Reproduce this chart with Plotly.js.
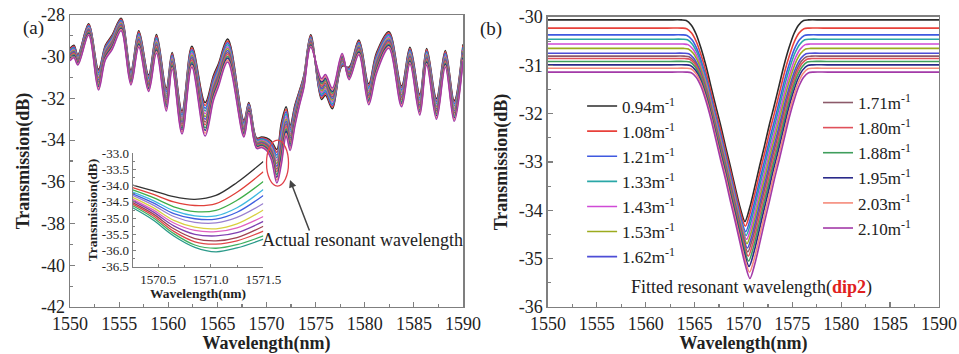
<!DOCTYPE html>
<html><head><meta charset="utf-8">
<script src="https://cdn.plot.ly/plotly-3.0.1.min.js"></script>
<style>html,body{margin:0;padding:0;background:#fff}#chart{width:959px;height:354px}</style>
</head><body><div id="chart"></div>
<script>
// ---------- series (curvature values) ----------
const seriesNames = ['0.94','1.08','1.21','1.33','1.43','1.53','1.62','1.71','1.80','1.88','1.95','2.03','2.10'];
const seriesColors = ['#2b2b2b','#e8413a','#3f59e0','#2aa7a7','#d04ad6','#9cab1e','#4d4dd6','#8c5a6a','#e0505a','#3f9e5c','#2a2a8a','#f58a7a','#a33aa8'];
const insetColors = ['#333333','#e0403a','#3fae4a','#3fb8e0','#4060e0','#9a80d0','#d8d040','#e060c0','#8040b0','#a04050','#e04848','#40b060','#2a9a8a'];

// ---------- tick labels ----------
const yTicksA = [-42,-40,-38,-36,-34,-32,-30,-28];
const yTicksB = [-36,-35,-34,-33,-32,-31,-30];
const yTicksInset = [-36.5,-36.0,-35.5,-35.0,-34.5,-34.0,-33.5,-33.0];
const xTicksInset = [1570.5,1571.0,1571.5];

// ---------- panel (a): measured spectra ----------
const specWl = [1550.0,1550.4,1550.8,1551.9,1552.9,1553.6,1554.3,1555.2,1556.2,1557.0,1558.0,1558.8,1559.8,1560.4,1561.4,1562.4,1563.75,1564.6,1565.1,1566.05,1567.7,1568.2,1569.0,1569.5,1570.0,1570.5,1571.05,1571.5,1572.0,1572.4,1572.9,1573.4,1573.8,1574.5,1575.6,1576.0,1576.7,1577.7,1578.4,1579.4,1580.4,1581.2,1582.45,1583.75,1584.6,1585.6,1586.3,1587.3,1588.2,1589.1,1590.0];
const specCenter = [-29.9,-29.75,-30.15,-28.7,-31.1,-29.8,-29.3,-28.45,-31.0,-29.15,-31.27,-29.38,-32.05,-30.2,-33.15,-30.0,-33.0,-31.5,-30.9,-29.7,-33.45,-32.45,-34.15,-34.1,-34.2,-34.5,-35.25,-34.2,-33.1,-33.9,-32.8,-31.9,-31.2,-29.25,-31.55,-31.35,-32.0,-30.15,-30.8,-29.55,-31.8,-30.3,-29.2,-31.9,-29.95,-32.3,-30.0,-32.5,-30.1,-32.6,-29.8];
const specSpread = [0.6,0.6,0.5,0.55,1.0,0.7,0.7,0.6,0.7,0.8,0.8,0.9,1.1,0.8,1.1,1.0,1.6,1.2,1.1,1.1,0.8,0.5,0.5,0.5,0.6,0.9,1.6,2.0,1.4,1.2,1.0,0.7,0.6,0.6,-1.0,-1.0,-1.0,-0.6,0.6,0.7,1.0,1.0,0.8,1.0,0.8,1.0,0.8,1.0,0.8,1.0,0.8];

// ---------- panel (a) inset ----------
const insetWl = [1570.26,1570.45,1570.65,1570.85,1571.05,1571.25,1571.5];
const insetY = [
  [-33.98,-34.15,-34.34,-34.42,-34.30,-33.90,-33.25],
  [-34.06,-34.26,-34.50,-34.61,-34.55,-34.20,-33.57],
  [-34.13,-34.36,-34.65,-34.80,-34.76,-34.45,-33.87],
  [-34.20,-34.45,-34.77,-34.93,-34.93,-34.68,-34.12],
  [-34.25,-34.52,-34.86,-35.02,-35.03,-34.82,-34.30],
  [-34.30,-34.59,-34.95,-35.13,-35.15,-34.98,-34.55],
  [-34.36,-34.67,-35.07,-35.28,-35.33,-35.18,-34.75],
  [-34.42,-34.74,-35.15,-35.38,-35.42,-35.30,-34.95],
  [-34.47,-34.80,-35.24,-35.50,-35.55,-35.45,-35.10],
  [-34.52,-34.86,-35.33,-35.63,-35.70,-35.60,-35.25],
  [-34.57,-34.92,-35.41,-35.73,-35.80,-35.70,-35.40],
  [-34.62,-34.98,-35.48,-35.83,-35.93,-35.82,-35.55],
  [-34.68,-35.05,-35.55,-35.90,-36.04,-35.92,-35.65]
];

// ---------- panel (b): fitted dips ----------
const fitBaseline = [-30.06,-30.23,-30.37,-30.46,-30.56,-30.65,-30.75,-30.81,-30.86,-30.92,-30.99,-31.06,-31.14];
const fitMin = [-34.23,-34.33,-34.44,-34.52,-34.60,-34.69,-34.78,-34.86,-34.95,-35.05,-35.16,-35.28,-35.41];
const fitCenter = [1570.15,1570.19,1570.23,1570.27,1570.32,1570.36,1570.40,1570.44,1570.49,1570.53,1570.57,1570.62,1570.66];
const profileOffset = [-21,-8,-6.5,-6,-5.5,-5,-4.5,-4,-3.5,-3,-2.5,-2,-1.5,-1,-0.5,0,0.5,1,1.5,2,2.5,3,3.5,4,4.5,5,5.5,6,6.5,8,21];
const profileDepth = [0,0,0,0.003,0.025,0.07,0.14,0.225,0.325,0.425,0.52,0.625,0.725,0.83,0.93,1,0.93,0.83,0.725,0.625,0.52,0.425,0.325,0.225,0.14,0.07,0.025,0.003,0,0,0];

const FONT = 'Liberation Serif';
const traces = [];
const n = seriesNames.length;
for (let i = 0; i < n; i++) {
  const t = 0.5 - i / (n - 1);
  traces.push({
    type: 'scatter', mode: 'lines', xaxis: 'x', yaxis: 'y', showlegend: false,
    x: specWl, y: specCenter.map((v, k) => v + specSpread[k] * t),
    line: {color: seriesColors[i], width: 1.5, shape: 'spline', smoothing: 1}, hoverinfo: 'skip'
  });
}
for (let i = 0; i < n; i++) {
  traces.push({
    type: 'scatter', mode: 'lines', xaxis: 'x3', yaxis: 'y3', showlegend: false,
    x: insetWl, y: insetY[i],
    line: {color: insetColors[i], width: 1.3, shape: 'spline', smoothing: 1}, hoverinfo: 'skip'
  });
}
for (let i = 0; i < n; i++) {
  traces.push({
    type: 'scatter', mode: 'lines', xaxis: 'x2', yaxis: 'y2',
    name: seriesNames[i] + 'm<sup>-1</sup>',
    legend: i < 7 ? 'legend' : 'legend2',
    x: profileOffset.map(o => fitCenter[i] + o),
    y: profileDepth.map(d => fitBaseline[i] + (fitMin[i] - fitBaseline[i]) * d),
    line: {color: seriesColors[i], width: 1.6, shape: 'spline', smoothing: 0.8}, hoverinfo: 'skip'
  });
}

const axCol = '#7f7f7f';
function mainAxis(extra) {
  return Object.assign({
    showline: true, mirror: true, linecolor: axCol, linewidth: 1.5,
    ticks: 'inside', ticklen: 5, tickcolor: axCol, tickwidth: 1.2,
    showgrid: false, zeroline: false, automargin: false,
    tickfont: {family: FONT, size: 18, color: '#222'}
  }, extra);
}
function minorX() { return {ticks: 'inside', ticklen: 3, tickcolor: axCol, dtick: 2.5, tick0: 1550, showgrid: false}; }
function axTitle(txt, size) { return {text: '<b>' + txt + '</b>', font: {family: FONT, size: size, color: '#222'}}; }

const layout = {
  width: 959, height: 354,
  margin: {l: 0, r: 0, t: 0, b: 0},
  paper_bgcolor: '#fff', plot_bgcolor: 'rgba(0,0,0,0)',
  font: {family: FONT, color: '#222', size: 18},
  xaxis: mainAxis({domain: [0.073, 0.4828], anchor: 'y', range: [1550, 1590], tick0: 1550, dtick: 5, minor: minorX(),
    title: Object.assign(axTitle('Wavelength(nm)', 18), {standoff: 4})}),
  yaxis: mainAxis({domain: [0.1328, 0.9576], anchor: 'x', range: [-42, -28],
    tickmode: 'array', tickvals: yTicksA, ticktext: yTicksA.map(String),
    minor: {ticks: 'inside', ticklen: 3, tickcolor: axCol, tickmode: 'linear', tick0: -42, dtick: 1, showgrid: false},
    title: Object.assign(axTitle('Transmission(dB)', 18), {standoff: 6})}),
  xaxis2: mainAxis({domain: [0.5714, 0.9791], anchor: 'y2', range: [1550, 1590], tick0: 1550, dtick: 5, minor: minorX(),
    title: Object.assign(axTitle('Wavelength(nm)', 18), {standoff: 4})}),
  yaxis2: mainAxis({domain: [0.1328, 0.952], anchor: 'x2', range: [-36, -30],
    tickmode: 'array', tickvals: yTicksB, ticktext: yTicksB.map(String),
    minor: {ticks: 'inside', ticklen: 3, tickcolor: axCol, tickmode: 'linear', tick0: -36, dtick: 0.5, showgrid: false},
    title: Object.assign(axTitle('Transmission(dB)', 18), {standoff: 6})}),
  xaxis3: {domain: [0.1384, 0.2746], anchor: 'y3', range: [1570.26, 1571.5],
    tickmode: 'array', tickvals: xTicksInset, ticktext: xTicksInset.map(v => v.toFixed(1)),
    showline: true, mirror: false, linecolor: axCol, linewidth: 1.2, ticks: 'inside', ticklen: 3, tickcolor: axCol,
    minor: {ticks: 'inside', ticklen: 2, tickcolor: axCol, tickmode: 'linear', tick0: 1570.5, dtick: 0.25},
    showgrid: false, zeroline: false, automargin: false,
    tickfont: {family: FONT, size: 13, color: '#222'},
    title: Object.assign(axTitle('Wavelength(nm)', 13.5), {standoff: 0})},
  yaxis3: {domain: [0.2466, 0.5669], anchor: 'x3', range: [-36.5, -33.0],
    tickmode: 'array', tickvals: yTicksInset, ticktext: yTicksInset.map(v => v.toFixed(1)),
    showline: true, mirror: false, linecolor: axCol, linewidth: 1.2, ticks: 'inside', ticklen: 3, tickcolor: axCol,
    minor: {ticks: 'inside', ticklen: 2, tickcolor: axCol, tickmode: 'linear', tick0: -36.5, dtick: 0.25},
    showgrid: false, zeroline: false, automargin: false,
    tickfont: {family: FONT, size: 13, color: '#222'},
    title: Object.assign(axTitle('Transmission(dB)', 13.5), {standoff: 1})},
  legend: {x: 0.607, y: 0.75, xanchor: 'left', yanchor: 'top', bgcolor: 'rgba(0,0,0,0)', borderwidth: 0,
    font: {family: FONT, size: 17, color: '#222'}, tracegroupgap: 0},
  legend2: {x: 0.853, y: 0.76, xanchor: 'left', yanchor: 'top', bgcolor: 'rgba(0,0,0,0)', borderwidth: 0,
    font: {family: FONT, size: 17, color: '#222'}, tracegroupgap: 0},
  shapes: [
    {type: 'circle', xref: 'x', yref: 'y', x0: 1570.0, x1: 1572.24, y0: -36.2, y1: -34.0,
     line: {color: '#e0404a', width: 1.3}}
  ],
  annotations: [
    {xref: 'paper', yref: 'paper', x: 21/959, y: 1 - 15/354, text: '(a)', showarrow: false,
     font: {family: FONT, size: 19, color: '#222'}},
    {xref: 'paper', yref: 'paper', x: 491/959, y: 1 - 16/354, text: '(b)', showarrow: false,
     font: {family: FONT, size: 19, color: '#222'}},
    {xref: 'x', yref: 'y', x: 1579.77, y: -38.79, text: 'Actual resonant wavelength', showarrow: false,
     font: {family: FONT, size: 18, color: '#222'}},
    {xref: 'x', yref: 'y', x: 1572.39, y: -35.91, text: '', showarrow: true, ax: 20, ay: 52,
     arrowhead: 2, arrowsize: 1, arrowwidth: 1.5, arrowcolor: '#444'},
    {xref: 'x2', yref: 'y2', x: 1570.84, y: -35.59,
     text: 'Fitted resonant wavelength(<b><span style="color:#e02020">dip2</span></b>)', showarrow: false,
     font: {family: FONT, size: 18, color: '#222'}}
  ]
};

Plotly.newPlot('chart', traces, layout, {staticPlot: true, displayModeBar: false});
</script>
</body></html>
